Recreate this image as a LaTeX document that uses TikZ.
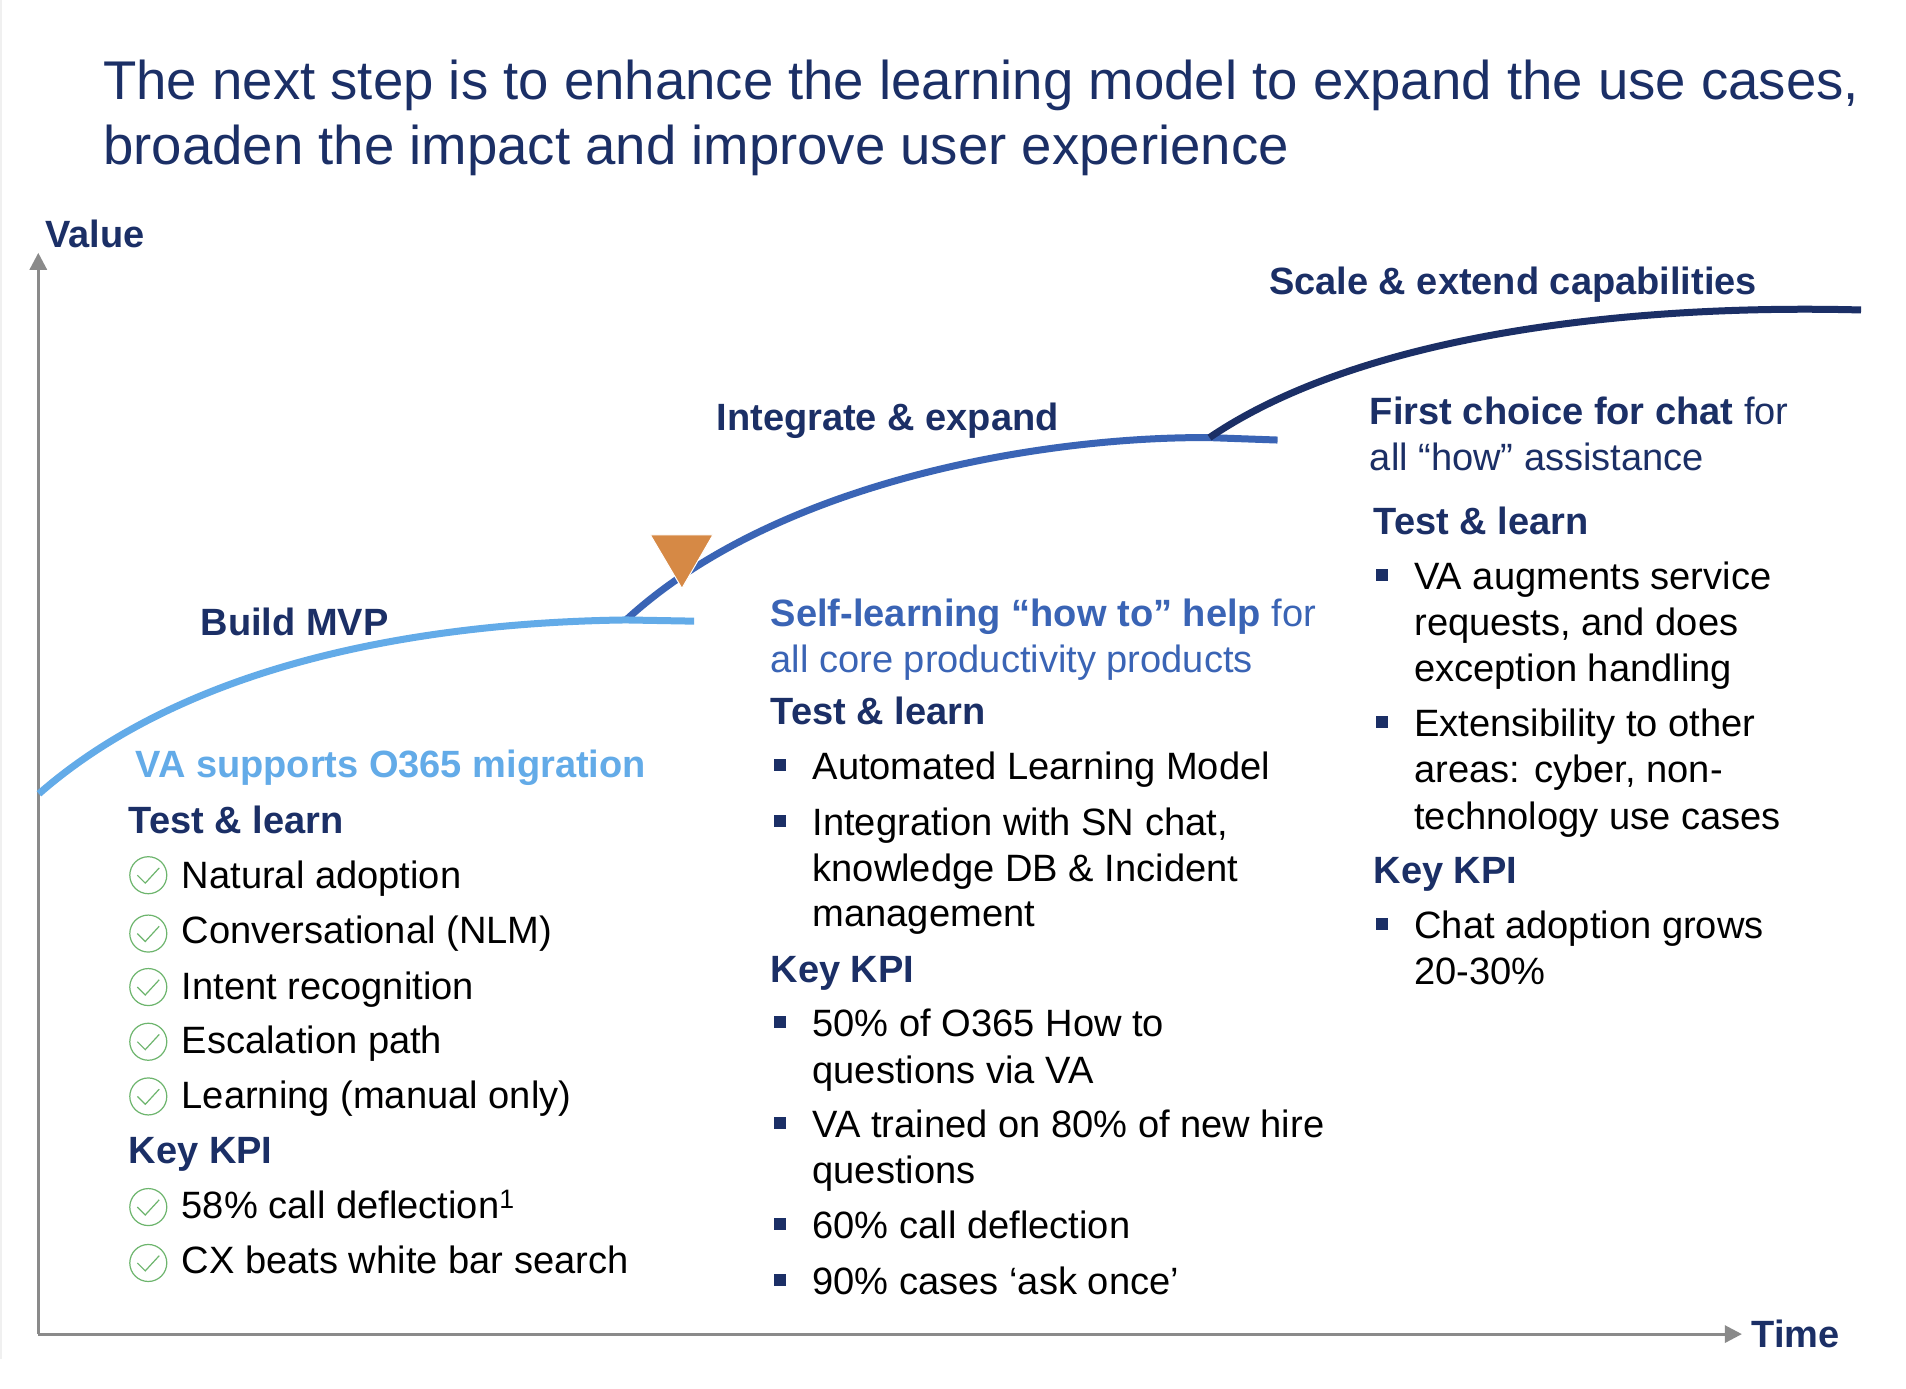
\documentclass[tikz,border=0pt]{standalone}
\usepackage{fontspec}
\setmainfont{Liberation Sans}
\usetikzlibrary{arrows.meta}
\definecolor{navy}{HTML}{1B2F66}
\definecolor{midblue}{HTML}{3A64B5}
\definecolor{lightblue}{HTML}{63ABE8}
\definecolor{orangefill}{HTML}{D68945}
\definecolor{okgreen}{HTML}{6DB56D}
\definecolor{axisgrey}{HTML}{8A8A8A}
\tikzset{
  txt/.style={anchor=base west,inner sep=0pt,outer sep=0pt},
  titletxt/.style={txt,text=navy,font=\fontsize{54.55}{60}\selectfont},
  head/.style={txt,text=navy,font=\bfseries\fontsize{38}{46}\selectfont},
  body/.style={txt,text=black,font=\fontsize{38.1}{46}\selectfont},
  phase/.style={txt,font=\fontsize{38.05}{46}\selectfont},
  sqbullet/.style={rectangle,fill=navy,inner sep=0pt,minimum size=12pt},
  okmark/.style={circle,draw=okgreen,line width=1.2pt,inner sep=0pt,minimum size=37pt},
  curvea/.style={line width=7pt,lightblue},
  curveb/.style={line width=7pt,midblue},
  curvec/.style={line width=7pt,navy},
  axisline/.style={line width=3pt,axisgrey,-{Triangle[length=17pt,width=17pt]}},
  okicon/.pic={\draw[okgreen,line width=1.2pt] (-9,0) -- (-2.5,6.5) -- (9,-6);}
}
\begin{document}
\begin{tikzpicture}[x=1.2156pt,y=-1.2156pt]
\useasboundingbox (0,0) rectangle (1568,1142);
\fill[white] (0,0) rectangle (1568,1142);
\draw[line width=1.5pt,black!6] (1,0) -- (1,1118);
% axes
\coordinate (origin) at (31.5,1097.5);
\coordinate (vtop) at (31.5,208);
\coordinate (hend) at (1433,1097.5);
\draw[axisline] (origin) -- (vtop);
\draw[axisline] (origin) -- (hend);
\node[head] (value) at (37.5,204) {Value};
\node[head] (time) at (1441,1108.5) {Time};
% title
\node[titletxt] (t1) at (85,82) {The next step is to enhance the learning model to expand the use cases,};
\node[titletxt] (t2) at (85,135) {broaden the impact and improve user experience};
% curves
\coordinate (a0) at (32,653);
\coordinate (ab) at (515,510);
\coordinate (a1) at (571,511);
\coordinate (bc) at (995,360);
\coordinate (b1) at (1051,362);
\coordinate (c1) at (1531,255);
\draw[curveb] (ab) .. controls (640,395) and (860,359) .. (bc) -- (b1);
\draw[curvec] (bc) .. controls (1120,275) and (1340,250) .. (c1);
\draw[curvea] (a0) .. controls (160,541) and (360,512) .. (ab) -- (a1);
\fill[orangefill,draw=white,line width=1pt] (535,440) -- (586.5,440) -- (561,484) -- cycle;
% phase labels
\node[head] (build) at (165,522.5) {Build MVP};
\node[head] (integ) at (589.5,354.5) {Integrate \& expand};
\node[head] (scale) at (1044,242.5) {Scale \& extend capabilities};
% left column
\node[head,text=lightblue] (lh) at (111.5,640) {VA supports O365 migration};
\node[head] (lt) at (106,686) {Test \& learn};
\foreach \n/\yi/\yt/\s in {1/720/731/Natural adoption,2/768/776/Conversational (NLM),3/812/822/Intent recognition,4/857/867/Escalation path,5/902/912/Learning (manual only)}{
  \node[okmark] (ic\n) at (122,\yi) {};
  \pic at (ic\n) {okicon};
  \node[body] (li\n) at (149.5,\yt) {\s};
}
\node[head] (lk) at (106,957) {Key KPI};
\node[okmark] (ic6) at (122,993) {};
\pic at (ic6) {okicon};
\node[body] (li6) at (149.5,1002) {58\% call deflection\textsuperscript{1}};
\node[okmark] (ic7) at (122,1039) {};
\pic at (ic7) {okicon};
\node[body] (li7) at (149.5,1048) {CX beats white bar search};
% middle column
\node[phase,text=midblue] (mh1) at (634,515) {\textbf{Self-learning “how to” help} for};
\node[phase,text=midblue] (mh2) at (634,553) {all core productivity products};
\node[head] (mt) at (634,596) {Test \& learn};
\node[sqbullet] (mb1) at (642,629) {};
\node[body] (m1) at (668.5,641) {Automated Learning Model};
\node[sqbullet] (mb2) at (642,675) {};
\node[body] (m2) at (668.5,687) {Integration with SN chat,};
\node[body] (m2b) at (668.5,725) {knowledge DB \& Incident};
\node[body] (m2c) at (668.5,762) {management};
\node[head] (mk) at (634,808) {Key KPI};
\node[sqbullet] (mb3) at (642,841) {};
\node[body] (m3) at (668.5,853) {50\% of O365 How to};
\node[body] (m3b) at (668.5,891) {questions via VA};
\node[sqbullet] (mb4) at (642,924) {};
\node[body] (m4) at (668.5,936) {VA trained on 80\% of new hire};
\node[body] (m4b) at (668.5,973.5) {questions};
\node[sqbullet] (mb5) at (642,1007) {};
\node[body] (m5) at (668.5,1019) {60\% call deflection};
\node[sqbullet] (mb6) at (642,1053) {};
\node[body] (m6) at (668.5,1065) {90\% cases ‘ask once’};
% right column
\node[phase,text=navy] (rh1) at (1127,349) {\textbf{First choice for chat} for};
\node[phase,text=navy] (rh2) at (1127,387) {all “how” assistance};
\node[head] (rt) at (1130,440) {Test \& learn};
\node[sqbullet] (rb1) at (1137,473) {};
\node[body] (r1) at (1163.5,485) {VA augments service};
\node[body] (r1b) at (1163.5,523) {requests, and does};
\node[body] (r1c) at (1163.5,561) {exception handling};
\node[sqbullet] (rb2) at (1137,594) {};
\node[body] (r2) at (1163.5,606) {Extensibility to other};
\node[body] (r2b) at (1163.5,644) {areas: cyber, non-};
\node[body] (r2c) at (1163.5,682) {technology use cases};
\node[head] (rk) at (1130,727) {Key KPI};
\node[sqbullet] (rb3) at (1137,760) {};
\node[body] (r3) at (1163.5,772) {Chat adoption grows};
\node[body] (r3b) at (1163.5,810) {20-30\%};
\end{tikzpicture}
\end{document}
